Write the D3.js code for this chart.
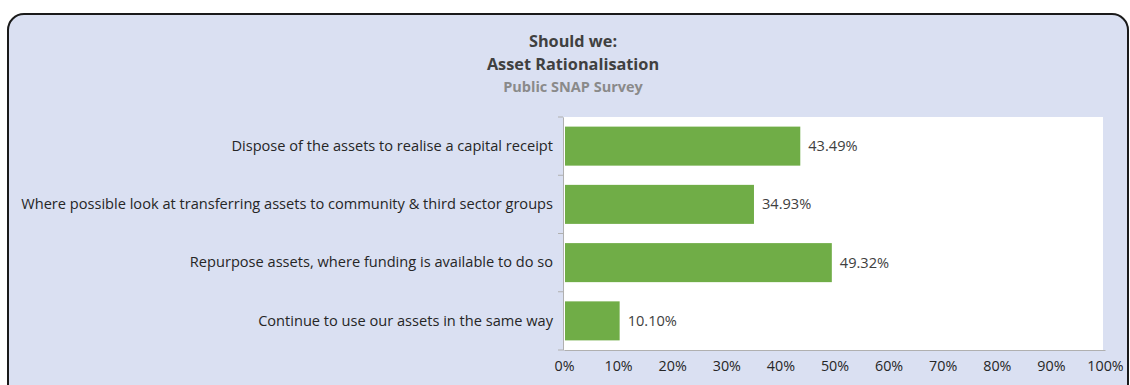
<!DOCTYPE html>
<html><head><meta charset="utf-8">
<script src="https://cdn.jsdelivr.net/npm/d3@7"></script>
<style>html,body{margin:0;padding:0;background:#fff;}svg{display:block;}</style>
</head><body>
<svg id="chart" width="1130" height="385"></svg>
<script>
const categories = [
  "Dispose of the assets to realise a capital receipt",
  "Where possible look at transferring assets to community & third sector groups",
  "Repurpose assets, where funding is available to do so",
  "Continue to use our assets in the same way"
];
const values = [43.49, 34.93, 49.32, 10.10];
const xTicks = [0,10,20,30,40,50,60,70,80,90,100];
const titleLines = ["Should we:", "Asset Rationalisation"];
const subtitle = "Public SNAP Survey";

const svg = d3.select("#chart");
const font = "'Open Sans', sans-serif";

svg.append("rect").attr("x",8).attr("y",14).attr("width",1120).attr("height",400)
  .attr("rx",16).attr("fill","#dae0f2").attr("stroke","#1a1a1a").attr("stroke-width",2);

const plot = {left:564, right:1105, top:117, bottom:350};
svg.append("rect").attr("x",plot.left).attr("y",plot.top)
  .attr("width",plot.right-plot.left-2).attr("height",plot.bottom-plot.top).attr("fill","#fff");

const x = d3.scaleLinear().domain([0,100]).range([plot.left, plot.right]);
const y = d3.scaleBand().domain(categories).range([plot.top, plot.bottom]).paddingInner(0.33).paddingOuter(0.165);

// title
svg.selectAll("text.title").data(titleLines).enter().append("text")
  .attr("x",573).attr("y",(d,i)=>47+i*23).attr("text-anchor","middle")
  .attr("font-family",font).attr("font-weight","bold").attr("font-size",16.3).attr("fill","#404040").text(d=>d);
svg.append("text").attr("x",573).attr("y",92).attr("text-anchor","middle")
  .attr("font-family",font).attr("font-weight","bold").attr("font-size",14.5).attr("fill","#8a8a8a").text(subtitle);

// bars
svg.selectAll("rect.bar").data(values).enter().append("rect")
  .attr("x",x(0)+1).attr("y",(d,i)=>y(categories[i]))
  .attr("width",d=>x(d)-x(0)).attr("height",y.bandwidth()).attr("fill","#70ad47");

svg.selectAll("text.val").data(values).enter().append("text")
  .attr("x",d=>x(d)+9).attr("y",(d,i)=>y(categories[i])+y.bandwidth()/2).attr("dy","0.35em")
  .attr("font-family",font).attr("font-size",14.6).attr("fill","#404040").text(d=>d.toFixed(2)+"%");

// y axis
const yAxis = d3.axisLeft(y).tickSize(0).tickPadding(10);
const gy = svg.append("g").attr("transform",`translate(${plot.left-1},0)`).call(yAxis);
gy.select(".domain").attr("stroke","#b0b0b0");
gy.selectAll("text").attr("font-family",font).attr("font-size",14.6).attr("fill","#262626");
// band boundary ticks
const bounds = d3.range(categories.length+1).map(i=>plot.top + i*(plot.bottom-plot.top)/categories.length);
svg.selectAll("line.bt").data(bounds).enter().append("line")
  .attr("x1",plot.left-6).attr("x2",plot.left-1).attr("y1",d=>d).attr("y2",d=>d).attr("stroke","#b0b0b0");

// x axis
const xAxis = d3.axisBottom(x).tickValues(xTicks).tickSize(0).tickPadding(11).tickFormat(d=>d+"%");
const gx = svg.append("g").attr("transform",`translate(0,${plot.bottom})`).call(xAxis);
gx.select(".domain").attr("stroke","#b0b0b0");
gx.selectAll("text").attr("font-family",font).attr("font-size",14.3).attr("fill","#262626");
</script>
</body></html>
